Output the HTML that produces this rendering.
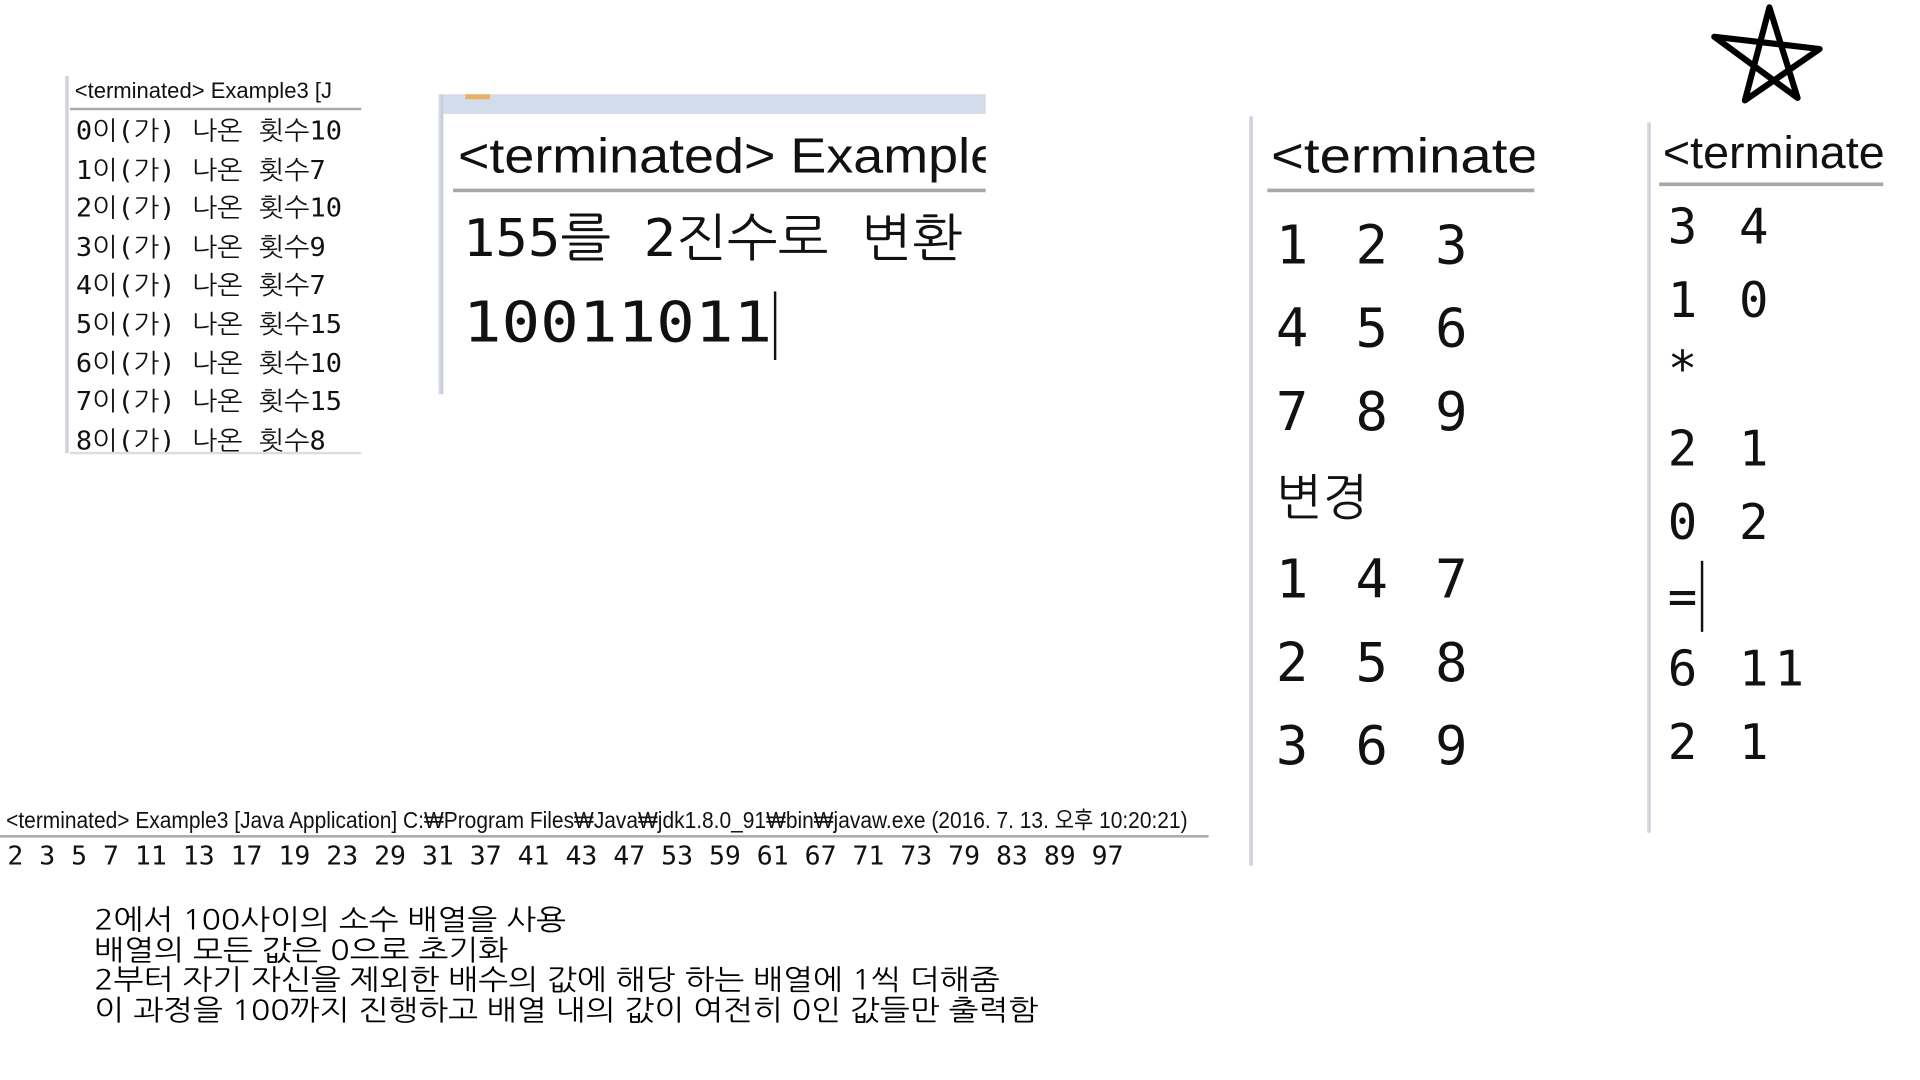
<!DOCTYPE html>
<html><head><meta charset="utf-8">
<style>
html,body{margin:0;padding:0;background:#fff;width:1920px;height:1080px;overflow:hidden}
#w{position:absolute;left:0;top:0;width:1568px;height:882px;transform:scale(1.2245);transform-origin:0 0}
.t{position:absolute;white-space:pre;font-family:"Liberation Sans","Noto Sans CJK KR",sans-serif;color:#111;line-height:1}
.m{font-family:"DejaVu Sans Mono","NanumGothic","Noto Sans CJK KR",monospace}
.k{font-family:"NanumGothic","Noto Sans CJK KR",sans-serif}
.l{position:absolute;background:#a8a8a8}
.v{position:absolute;background:linear-gradient(90deg,#dde3ef,#c4c6cc)}
.clip{position:absolute;overflow:hidden}
</style></head><body>
<div id="w">
<!-- panel 1 -->
<div>
<div class="v" style="left:53px;top:62px;width:3px;height:308px"></div>
<div class="clip" style="left:57px;top:60px;width:238px;height:28px">
<div class="t" style="left:4px;top:5px;font-size:18px;transform:scaleX(1.0);transform-origin:0 0">&lt;terminated&gt; Example3 [J</div>
</div>
<div class="l" style="left:57px;top:88px;width:238px;height:2px"></div>
<div class="t m" style="left:62px;top:92px;font-size:21px;line-height:31.6px;transform:scaleX(1.05);transform-origin:0 0">0이(가) 나온 횟수10
1이(가) 나온 횟수7
2이(가) 나온 횟수10
3이(가) 나온 횟수9
4이(가) 나온 횟수7
5이(가) 나온 횟수15
6이(가) 나온 횟수10
7이(가) 나온 횟수15
8이(가) 나온 횟수8</div>
<div class="l" style="left:57px;top:369px;width:238px;height:2px;background:#ddd"></div>
</div>
<!-- panel 2 -->
<div>
<div style="position:absolute;left:362px;top:77px;width:443px;height:16px;background:#d3dcea"></div>
<div style="position:absolute;left:380px;top:77px;width:20px;height:4px;background:#e8b060"></div>
<div class="v" style="left:358px;top:77px;width:4px;height:245px"></div>
<div class="clip" style="left:370px;top:100px;width:435px;height:54px">
<div class="t" style="left:4px;top:8px;font-size:40px;transform:scaleX(1.1);transform-origin:0 0">&lt;terminated&gt; Example</div>
</div>
<div class="l" style="left:370px;top:154px;width:435px;height:3px"></div>
<div class="t m" style="left:378px;top:174px;font-size:42px;transform:scaleX(1.05);transform-origin:0 0">155를 2진수로 변환</div>
<div class="t m" style="left:378px;top:240px;font-size:46px;transform:scaleX(1.14);transform-origin:0 0">10011011</div>
<div style="position:absolute;left:632px;top:238px;width:2px;height:56px;background:#111"></div>
</div>
<!-- panel 3 -->
<div>
<div class="v" style="left:1020px;top:95px;width:3px;height:612px"></div>
<div class="clip" style="left:1035px;top:100px;width:218px;height:54px">
<div class="t" style="left:3px;top:8px;font-size:40px;transform:scaleX(1.15);transform-origin:0 0">&lt;terminate</div>
</div>
<div class="l" style="left:1035px;top:154px;width:218px;height:3px"></div>
<div class="t m" style="left:1042px;top:167px;font-size:44px;line-height:68.2px;letter-spacing:6px">1 2 3
4 5 6
7 8 9
<span class="k" style="font-size:40px;letter-spacing:0">변경</span>
1 4 7
2 5 8
3 6 9</div>
</div>
<!-- panel 4 -->
<div>
<div class="v" style="left:1345px;top:100px;width:3px;height:580px"></div>
<div class="clip" style="left:1355px;top:100px;width:183px;height:49px">
<div class="t" style="left:3px;top:6px;font-size:37px;transform:scaleX(1.03);transform-origin:0 0">&lt;terminate</div>
</div>
<div class="l" style="left:1355px;top:149px;width:183px;height:3px"></div>
<div class="t m" style="left:1362px;top:166px;font-size:40px;letter-spacing:5px">3 4</div>
<div class="t m" style="left:1362px;top:226px;font-size:40px;letter-spacing:5px">1 0</div>
<div class="t m" style="left:1362px;top:282px;font-size:40px">*</div>
<div class="t m" style="left:1362px;top:347px;font-size:40px;letter-spacing:5px">2 1</div>
<div class="t m" style="left:1362px;top:407px;font-size:40px;letter-spacing:5px">0 2</div>
<div class="t m" style="left:1362px;top:468px;font-size:40px">=</div>
<div class="t m" style="left:1362px;top:527px;font-size:40px;letter-spacing:5px">6 11</div>
<div class="t m" style="left:1362px;top:587px;font-size:40px;letter-spacing:5px">2 1</div>
<div style="position:absolute;left:1389px;top:458px;width:2px;height:58px;background:#111"></div>
</div>
<!-- star -->
<svg style="position:absolute;left:1390px;top:0" width="110" height="95">
<path d="M35,82 L55,6 L78,80 L10,30 L96,40 Z" fill="none" stroke="#000" stroke-width="5" stroke-linejoin="round"/>
</svg>
<!-- bottom console -->
<div>
<div class="t" style="left:5px;top:661px;font-size:19px;transform:scaleX(0.9);transform-origin:0 0">&lt;terminated&gt; Example3 [Java Application] C:₩Program Files₩Java₩jdk1.8.0_91₩bin₩javaw.exe (2016. 7. 13. 오후 10:20:21)</div>
<div class="l" style="left:0;top:682px;width:987px;height:2px"></div>
<div class="t m" style="left:6px;top:689px;font-size:21px;transform:scaleX(1.03);transform-origin:0 0">2 3 5 7 11 13 17 19 23 29 31 37 41 43 47 53 59 61 67 71 73 79 83 89 97</div>
</div>
<div class="t k" style="left:77px;top:740px;font-size:23px;line-height:24.6px;transform:scaleX(1.13);transform-origin:0 0;color:#000">2에서 100사이의 소수 배열을 사용
배열의 모든 값은 0으로 초기화
2부터 자기 자신을 제외한 배수의 값에 해당 하는 배열에 1씩 더해줌
이 과정을 100까지 진행하고 배열 내의 값이 여전히 0인 값들만 출력함</div>
</div>
</body></html>
